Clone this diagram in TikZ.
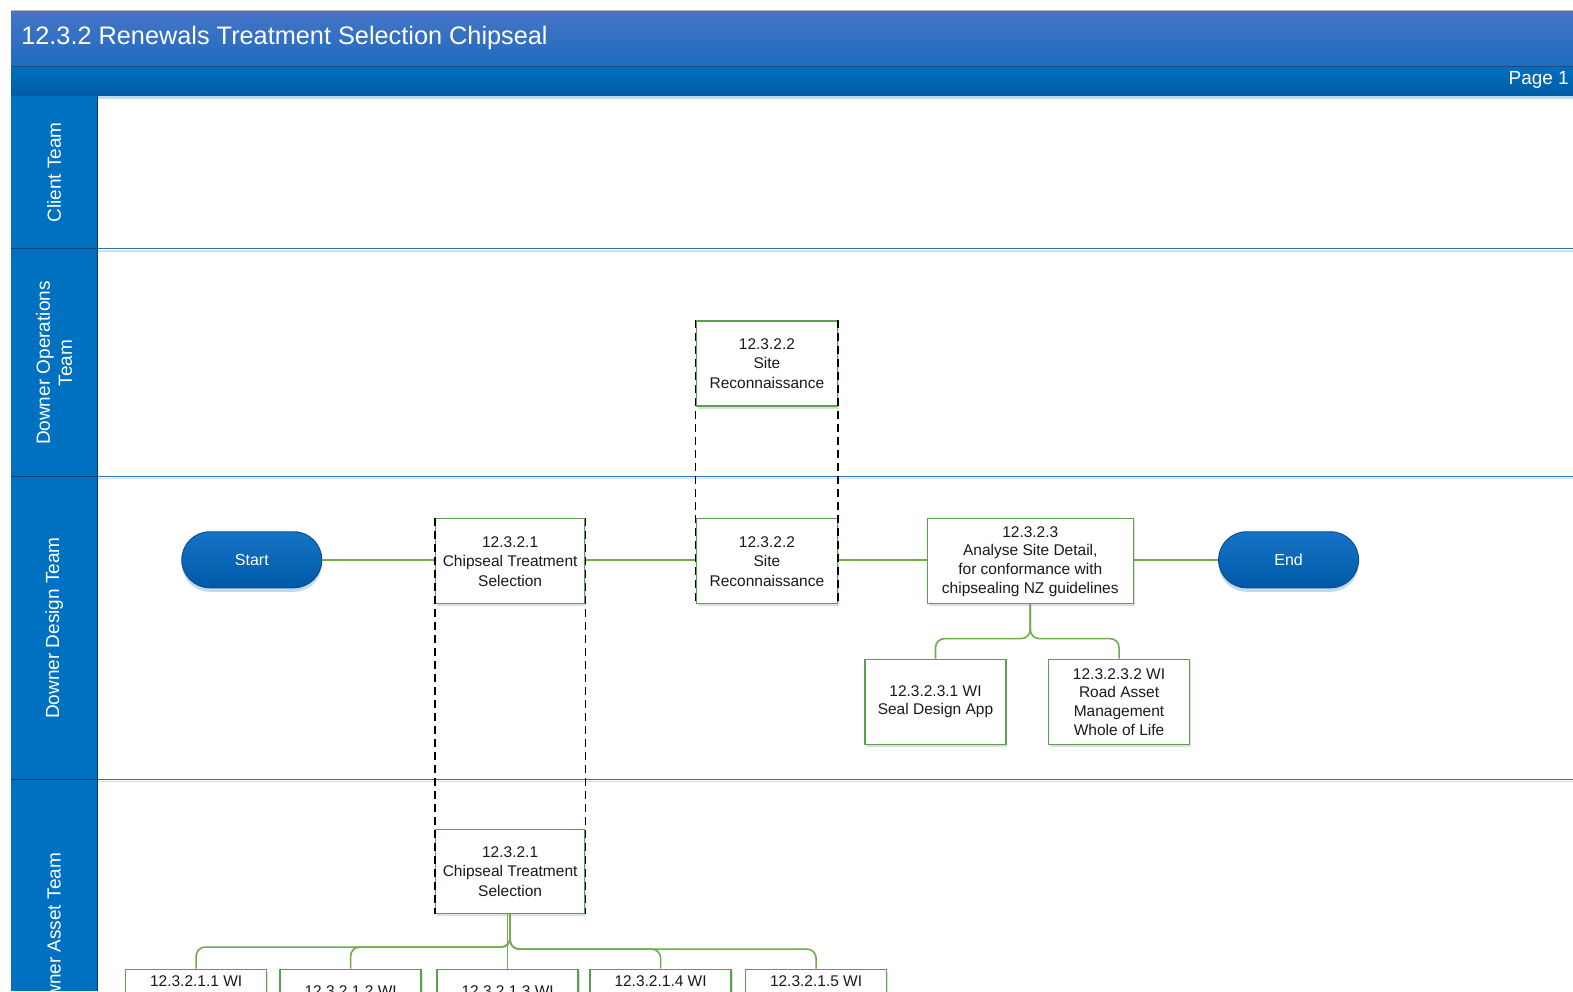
\documentclass[tikz,border=0pt]{standalone}
\usepackage{fontspec}
\setmainfont{Liberation Sans}
\usetikzlibrary{shadows,calc}
\definecolor{hdrtop}{HTML}{4674C6}
\definecolor{hdrbot}{HTML}{1F6CBF}
\definecolor{band}{HTML}{0070C0}
\definecolor{bandbot}{HTML}{005BA6}
\definecolor{lanecol}{HTML}{0070C0}
\definecolor{lanesep}{HTML}{2F6FAE}
\definecolor{boxgreen}{HTML}{5B9E4D}
\definecolor{conngreen}{HTML}{70AD47}
\definecolor{pilltop}{HTML}{1673C5}
\definecolor{pillbot}{HTML}{0059A8}
\definecolor{pillborder}{HTML}{0A4E8E}
\definecolor{txt}{HTML}{1A1A1A}
\tikzset{
 procbox/.style={draw=boxgreen, line width=1.4pt, fill=white, align=center, text=txt,
   font=\fontsize{15.5}{19.5}\selectfont, inner sep=2pt,
   drop shadow={shadow xshift=1.5pt, shadow yshift=-2.5pt, opacity=0.25, fill=gray}},
 pill/.style={rounded corners=28pt, top color=pilltop, bottom color=pillbot, draw=pillborder,
   line width=1pt, text=white, font=\fontsize{16}{19}\selectfont, minimum width=140pt, minimum height=56pt,
   drop shadow={shadow xshift=0pt, shadow yshift=-4pt, fill=band!25, opacity=1}},
 conn/.style={draw=conngreen, line width=1.6pt},
 dashline/.style={draw=black, line width=1.3pt, dash pattern=on 8pt off 5pt},
 lanelabel/.style={rotate=90, text=white, font=\fontsize{19}{22}\selectfont, align=center},
 lanesepline/.style={draw=lanesep, line width=1.3pt},
 wibox/.style={procbox, minimum width=141pt, minimum height=85pt},
 celltext/.style={text=txt, font=\fontsize{15.5}{19.5}\selectfont},
}
\begin{document}
\begin{tikzpicture}[x=1.0032pt, y=-1.0032pt]
\path[use as bounding box] (0,0) rectangle (1568,988);
\clip (0,0) rectangle (1568,988);
\fill[white] (0,0) rectangle (1568,988);
% header
\shade[top color=hdrtop, bottom color=hdrbot] (11,10) rectangle (1568,66);
\draw[color=gray!55, line width=1pt] (11,10) -- (1568,10);
\shade[top color=band, bottom color=bandbot] (11,66) rectangle (1568,96);
\draw[color=hdrbot!70!black, line width=1pt] (11,66) -- (1568,66);
\fill[color=band!25] (97,96) rectangle (1568,99);
\node[anchor=west, text=white, font=\fontsize{25.3}{28}\selectfont, inner sep=0pt] (title) at (21,38) {12.3.2 Renewals Treatment Selection Chipseal};
\node[anchor=east, text=white, font=\fontsize{19}{22}\selectfont, inner sep=0pt] (page) at (1564,80) {Page 1};
% lane column
\fill[lanecol] (11,96) rectangle (97,988);
\foreach \yy in {248,475,777} {
  \draw[color=bandbot!70!black, line width=1pt] (11,\yy) -- (97,\yy);
  \draw[lanesepline] (97,\yy) -- (1568,\yy);
  \draw[color=band!20, line width=1.5pt] (97,\yy+2) -- (1568,\yy+2);
}
\draw[color=bandbot!60!black, line width=0.8pt] (97,96) -- (97,988);
\node[lanelabel] (l1) at (54,172) {Client Team};
\node[lanelabel] (l2) at (54,362) {Downer Operations\\Team};
\node[lanelabel] (l3) at (54,626) {Downer Design Team};
\node[lanelabel] (l4) at (54,935) {Downer Asset Team};
% nodes
\node[pill] (start) at (251,558) {Start};
\node[pill] (end) at (1284.5,558) {End};
\node[procbox, minimum width=149pt, minimum height=85pt] (c1d) at (508.5,559.5) {12.3.2.1\\Chipseal Treatment\\Selection};
\node[procbox, minimum width=149pt, minimum height=84pt] (c1a) at (508.5,868.5) {12.3.2.1\\Chipseal Treatment\\Selection};
\node[procbox, minimum width=141pt, minimum height=85pt] (s2o) at (764.5,362.5) {12.3.2.2\\Site\\Reconnaissance};
\node[procbox, minimum width=141pt, minimum height=85pt] (s2d) at (764.5,559.5) {12.3.2.2\\Site\\Reconnaissance};
\node[procbox, minimum width=206pt, minimum height=85pt, font=\fontsize{15.5}{18.7}\selectfont] (a3) at (1027,559.5) {12.3.2.3\\Analyse Site Detail,\\for conformance with\\chipsealing NZ guidelines};
\node[wibox, font=\fontsize{15.5}{18.7}\selectfont] (w31) at (932.5,699.5) {12.3.2.3.1 WI\\Seal Design App};
\node[wibox, font=\fontsize{15.5}{18.7}\selectfont] (w32) at (1115.5,699.5) {12.3.2.3.2 WI\\Road Asset\\Management\\Whole of Life};
% bottom row
\node[wibox] (b1) at (195.5,1008.5) {};
\node[wibox] (b2) at (349.5,1008.5) {};
\node[wibox] (b3) at (506,1008.5) {};
\node[wibox] (b4) at (658.5,1008.5) {};
\node[wibox] (b5) at (813.5,1008.5) {};
\node[celltext] (b1t) at (195.5,978) {12.3.2.1.1 WI};
\node[celltext] (b2t) at (349.5,988) {12.3.2.1.2 WI};
\node[celltext] (b3t) at (506,988) {12.3.2.1.3 WI};
\node[celltext] (b4t) at (658.5,978) {12.3.2.1.4 WI};
\node[celltext] (b5t) at (813.5,978) {12.3.2.1.5 WI};
% connectors
\draw[conn] (start.east) -- (start.east -| c1d.west);
\draw[conn] (c1d.east |- start.east) -- (s2d.west |- start.east);
\draw[conn] (s2d.east |- start.east) -- (a3.west |- start.east);
\draw[conn] (a3.east |- start.east) -- (end.west);
\draw[conn, rounded corners=9pt] (a3.south) -- ++(0,34) -| (w31.north);
\draw[conn, rounded corners=9pt] (a3.south) -- ++(0,34) -| (w32.north);
\draw[conn, rounded corners=9pt] (c1a.south) -- ++(0,33) -| (b1.north);
\draw[conn, rounded corners=9pt] (c1a.south) -- ++(0,33) -| (b2.north);
\draw[conn] (c1a.south -| b3.north) -- (b3.north);
\draw[conn, rounded corners=9pt] (c1a.south) -- ++(0,35) -| (b4.north);
\draw[conn, rounded corners=9pt] (c1a.south) -- ++(0,35) -| (b5.north);
% dashed links between lanes
\draw[dashline] (c1d.north west) -- (c1a.south west);
\draw[dashline] (c1d.north east) -- (c1a.south east);
\draw[dashline] (s2o.north west) -- (s2d.south west);
\draw[dashline] (s2o.north east) -- (s2d.south east);
\end{tikzpicture}
\end{document}
